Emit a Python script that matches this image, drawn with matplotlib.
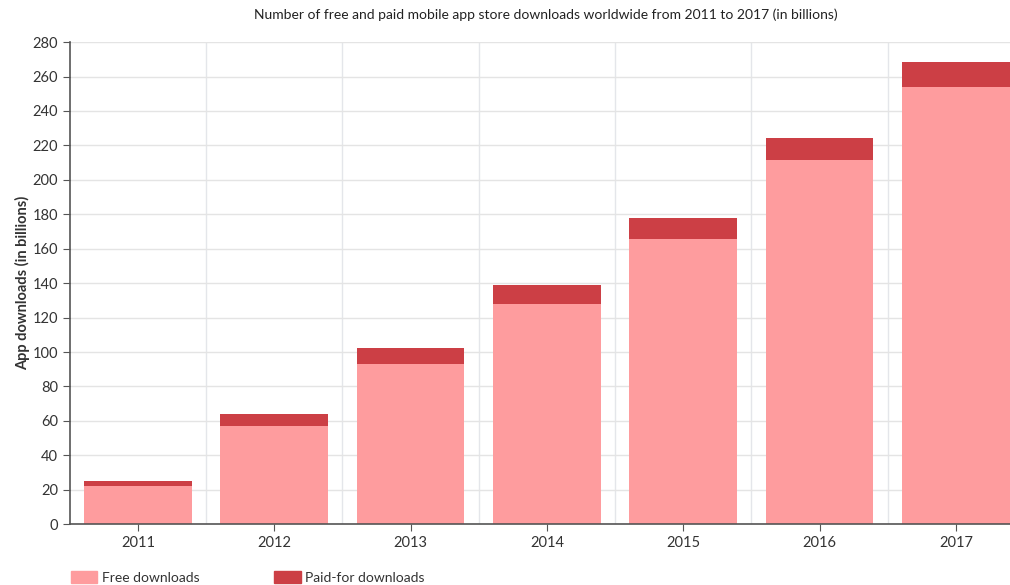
import numpy as np
import matplotlib.pyplot as plt
from matplotlib.patches import Patch

plt.rcParams['font.family'] = ['Lato', 'DejaVu Sans']

# Daten
years = ['2011', '2012', '2013', '2014', '2015', '2016', '2017']
free = np.array([22.0, 57.3, 92.9, 127.7, 165.7, 211.3, 253.9])
paid = np.array([2.9, 6.9, 9.2, 11.3, 12.3, 13.2, 14.8])

c_free = '#fe9c9e'
c_paid = '#cc3f45'

fig = plt.figure(figsize=(10.1, 5.85), dpi=100)
ax = fig.add_axes([0.069, 0.104, 0.945, 0.824])

x = np.arange(len(years))
ax.bar(x, free, width=0.79, color=c_free, zorder=2)
ax.bar(x, paid, width=0.79, bottom=free, color=c_paid, zorder=2)

ax.set_xlim(-0.5, 6.5)
ax.set_ylim(0, 280)
ax.set_yticks(np.arange(0, 281, 20))
ax.set_xticks(x)
ax.set_xticklabels(years)
ax.set_xticks(x[:-1] + 0.5, minor=True)
ax.tick_params(axis='x', which='minor', length=0)

ax.grid(axis='y', which='major', color='#e4e4e4', lw=1, zorder=0)
ax.grid(axis='x', which='minor', color='#e4e6ea', lw=1, zorder=0)

for s in ['top', 'right']:
    ax.spines[s].set_visible(False)
for s in ['left', 'bottom']:
    ax.spines[s].set_color('#555555')
    ax.spines[s].set_linewidth(1.2)
ax.tick_params(axis='both', which='major', colors='#555555', labelcolor='#333333',
               labelsize=10.5, length=5)

ax.set_ylabel('App downloads (in billions)', fontsize=10.5, fontweight='bold', color='#333333')
ax.yaxis.set_label_coords(-0.041, 0.5)

fig.text(0.54, 0.974, 'Number of free and paid mobile app store downloads worldwide from 2011 to 2017 (in billions)',
         ha='center', va='center', fontsize=10, color='#222222')

handles = [Patch(color=c_free, label='Free downloads'), Patch(color=c_paid, label='Paid-for downloads')]
fig.legend(handles=handles, loc='lower left', bbox_to_anchor=(0.058, -0.019), ncol=2, frameon=False,
           fontsize=10, handlelength=1.9, handleheight=1.0, columnspacing=5.4, handletextpad=0.3,
           labelcolor='#333333')

plt.savefig('out.png', dpi=100, facecolor='white')
